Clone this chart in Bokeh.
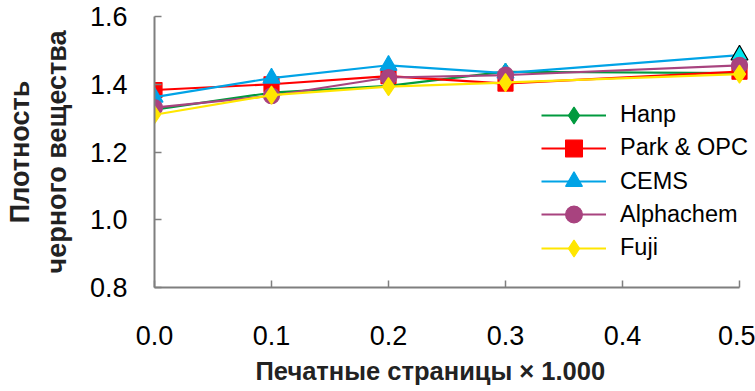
from bokeh.plotting import figure
from bokeh.models import (Range1d, FixedTicker, Legend, LegendItem, LinearAxis,
                          Title, ColumnDataSource)
from bokeh.embed import file_html
from bokeh.resources import INLINE

# Printed pages (thousands) and black density per toner
pages = [0.0, 0.1, 0.2, 0.3, 0.5]
hanp = [1.325, 1.375, 1.395, 1.437, 1.433]
park_opc = [1.383, 1.400, 1.424, 1.402, 1.437]
cems = [1.362, 1.418, 1.456, 1.433, 1.486]
alphachem = [1.331, 1.366, 1.420, 1.427, 1.456]
fuji = [1.310, 1.368, 1.393, 1.405, 1.430]

x_ticks = [0.0, 0.1, 0.2, 0.3, 0.4, 0.5]
y_ticks = [0.8, 1.0, 1.2, 1.4, 1.6]

x_title = "Печатные страницы × 1.000"
y_title_lines = ["Плотность", "черного вещества"]

FONT = "Liberation Sans"

# frame runs to the right canvas edge so the legend text is not cut;
# the x axis line itself stops at 0.5
x_end = 0.5 * 601 / 585
p = figure(width=755, height=391, output_backend="svg", toolbar_location=None,
           x_range=Range1d(0.0, x_end), y_range=Range1d(0.8, 1.6),
           min_border_left=154, min_border_right=0, min_border_top=16,
           min_border_bottom=102)
p.outline_line_color = None
p.grid.grid_line_color = None
p.background_fill_color = "white"
p.border_fill_color = "white"

for ax in (p.xaxis[0], p.yaxis[0]):
    ax.axis_line_color = "#7f7f7f"
    ax.axis_line_width = 2
    ax.major_tick_line_color = "#7f7f7f"
    ax.major_tick_line_width = 1.5
    ax.major_tick_in = 7
    ax.major_tick_out = 0
    ax.minor_tick_line_color = None
    ax.major_label_text_font = FONT
    ax.major_label_text_font_size = "27px"
    ax.major_label_text_color = "black"

p.xaxis.bounds = (0.0, 0.5)
p.xaxis.ticker = FixedTicker(ticks=x_ticks)
p.yaxis.ticker = FixedTicker(ticks=y_ticks)
p.xaxis.major_label_overrides = {t: f"{t:.1f}" for t in x_ticks}
p.yaxis.major_label_overrides = {t: f"{t:.1f}" for t in y_ticks}
p.xaxis.major_label_standoff = 38
p.yaxis.major_label_standoff = 27


def title_axis(label, bounds, standoff, size):
    """Bare axis that only carries a bold title, centred on `bounds`."""
    return LinearAxis(ticker=FixedTicker(ticks=[]), bounds=bounds,
                      axis_line_color=None, major_tick_line_color=None,
                      minor_tick_line_color=None, major_tick_in=0, major_tick_out=0,
                      minor_tick_in=0, minor_tick_out=0, major_label_standoff=0,
                      axis_label=label, axis_label_standoff=standoff,
                      axis_label_text_font=FONT, axis_label_text_font_style="bold",
                      axis_label_text_font_size=size, axis_label_text_color="#222222")


# x title, starting a little right of the frame's left edge
p.add_layout(Title(text=x_title, align="left", offset=101, standoff=14,
                   text_font=FONT, text_font_style="bold", text_font_size="25.5px",
                   text_color="#222222"), "below")
# y title: two lines, each ending at the bottom of the frame
p.add_layout(title_axis(y_title_lines[1], (0.8, 1.502), 15, "27px"), "left")
p.add_layout(title_axis(y_title_lines[0], (0.8, 1.208), 4, "27px"), "left")

series = [
    ("Hanp", hanp, "#009a3e", "diamond", 17),
    ("Park & OPC", park_opc, "#ff0000", "square", 15),
    ("CEMS", cems, "#00a3e6", "triangle", 17),
    ("Alphachem", alphachem, "#a8437f", "circle", 16),
    ("Fuji", fuji, "#ffe600", "diamond", 18),
]

for i, (name, vals, color, marker, size) in enumerate(series):
    n = len(vals)
    fills = [color] * n
    outlines = [color] * n
    if name == "CEMS":
        # last point is shown highlighted
        fills[-1] = "#00e5ee"
        outlines[-1] = "black"
    src = ColumnDataSource(dict(x=pages, y=vals, fill=fills, outline=outlines))
    ln = p.line("x", "y", source=src, line_color=color, line_width=2.2)
    sc = p.scatter("x", "y", source=src, marker=marker, size=size,
                   fill_color="fill", line_color="outline", line_width=1.2)
    # one legend per row so the key markers can be large while rows stay tight
    leg = Legend(items=[LegendItem(label=name, renderers=[ln, sc], index=0)],
                 location=(387, 151.5 - i * 33.25), border_line_color=None,
                 background_fill_alpha=0, padding=0, margin=0, spacing=0,
                 glyph_width=65, glyph_height=42, label_standoff=14,
                 label_text_font=FONT, label_text_font_size="23.5px",
                 label_text_color="black")
    p.add_layout(leg)

open("out.html", "w").write(file_html(p, INLINE))
